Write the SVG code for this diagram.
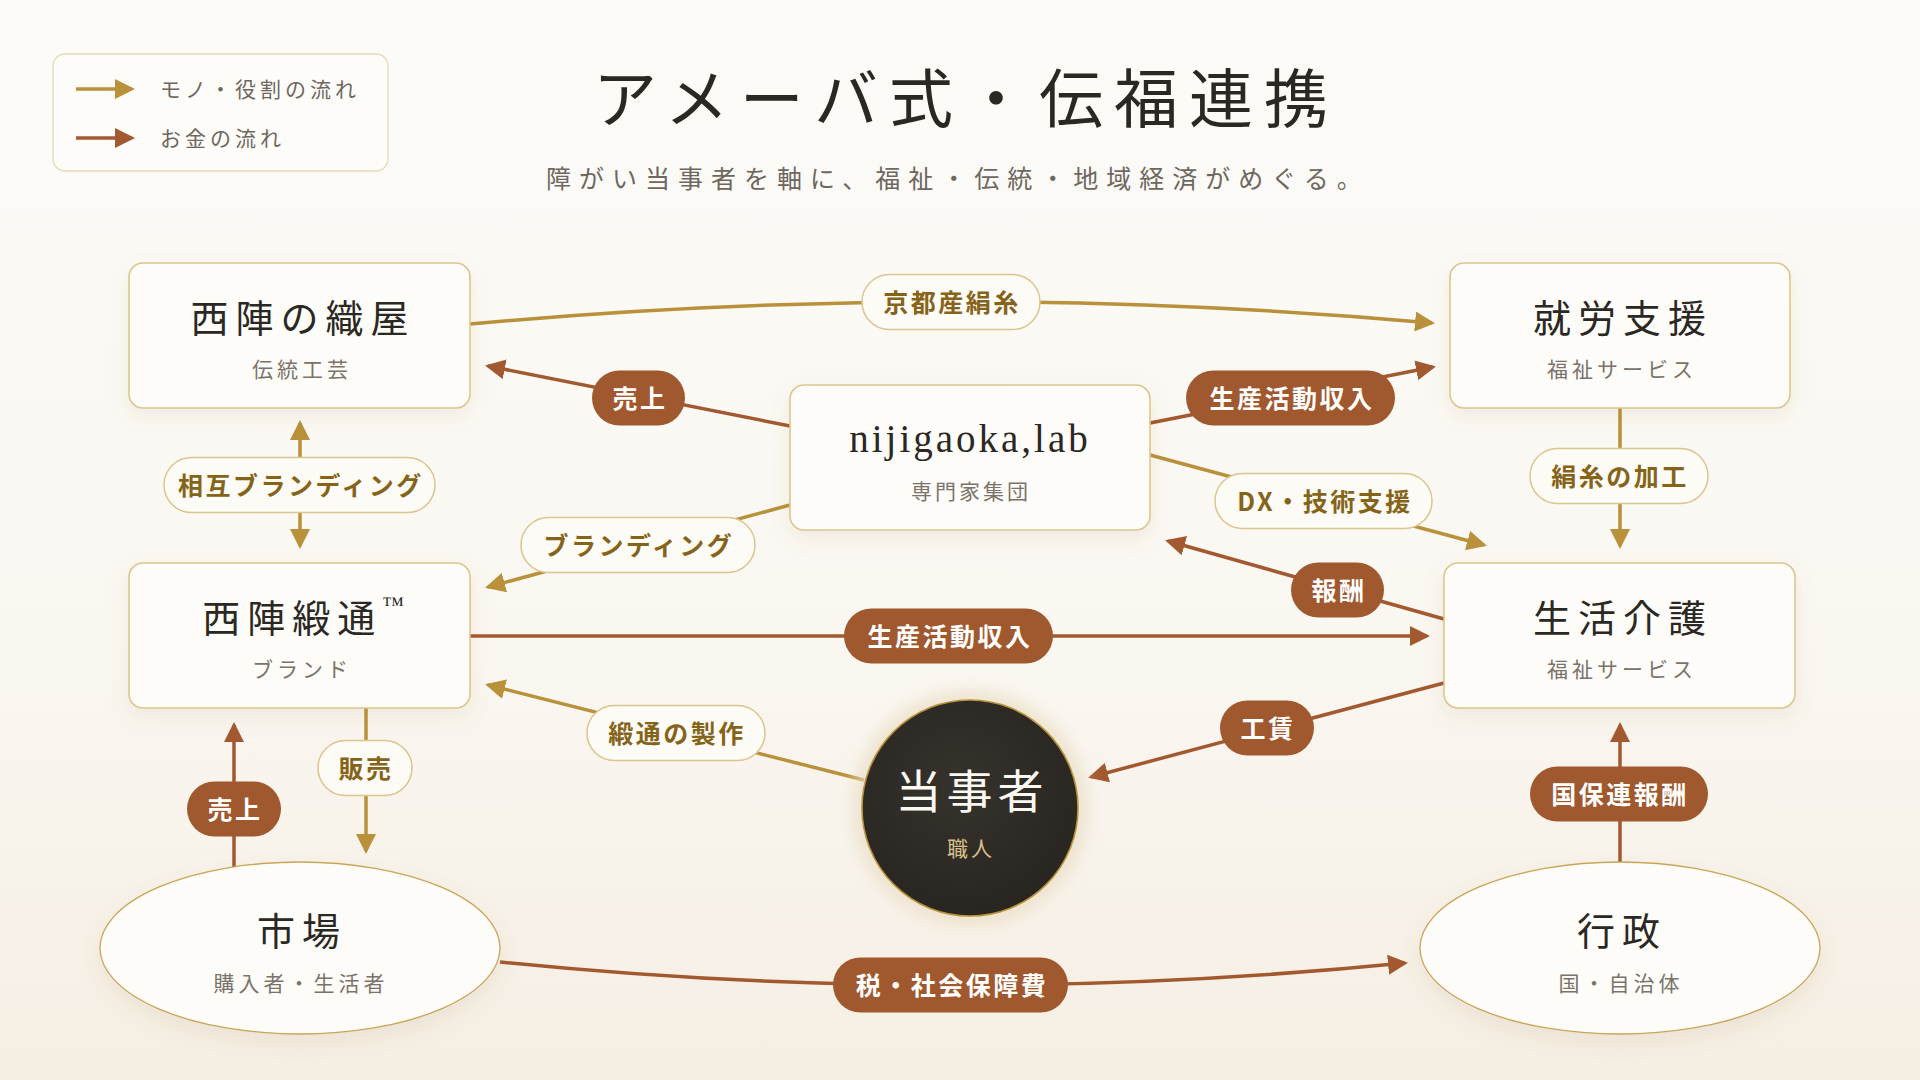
<svg xmlns="http://www.w3.org/2000/svg" width="1920" height="1080" viewBox="0 0 1920 1080">
<defs>
  <linearGradient id="bg" x1="0" y1="0" x2="0" y2="1">
    <stop offset="0" stop-color="#fcfbf8"/>
    <stop offset="0.6" stop-color="#faf7f1"/>
    <stop offset="1" stop-color="#f5eee3"/>
  </linearGradient>
  <radialGradient id="dark" cx="0.45" cy="0.4" r="0.65">
    <stop offset="0" stop-color="#36322c"/>
    <stop offset="1" stop-color="#282521"/>
  </radialGradient>
  <filter id="shadow" x="-20%" y="-20%" width="140%" height="150%">
    <feDropShadow dx="0" dy="8" stdDeviation="10" flood-color="#8a6a3a" flood-opacity="0.10"/>
  </filter>
  <filter id="halo" x="-30%" y="-30%" width="160%" height="160%">
    <feGaussianBlur stdDeviation="8"/>
  </filter>
  <marker id="ag" viewBox="0 0 20 20" refX="17" refY="10" markerWidth="20" markerHeight="20" markerUnits="userSpaceOnUse" orient="auto-start-reverse">
    <path d="M0,0 L20,10 L0,20 Z" fill="#b8913a"/>
  </marker>
  <marker id="ab" viewBox="0 0 20 20" refX="17" refY="10" markerWidth="20" markerHeight="20" markerUnits="userSpaceOnUse" orient="auto-start-reverse">
    <path d="M0,0 L20,10 L0,20 Z" fill="#a3592f"/>
  </marker>
  <style>
    .box { fill: #fdfcf9; stroke: #dcc58e; stroke-width: 1.6; filter: url(#shadow); }
    .ell { fill: #fdfcf9; stroke: #c9a558; stroke-width: 1.3; filter: url(#shadow); }
    .ttl { font-family: "Noto Sans CJK JP", sans-serif; font-size: 38px; fill: #2b2824; letter-spacing: 7px; text-anchor: middle; dominant-baseline: central; }
    .sub { font-family: "Noto Sans CJK JP", sans-serif; font-size: 21px; fill: #7b736a; letter-spacing: 4px; text-anchor: middle; dominant-baseline: central; }
    .g { fill: none; stroke: #b8913a; stroke-width: 3.5; }
    .b { fill: none; stroke: #a3592f; stroke-width: 3.5; }
    .pg { fill: #fdfbf5; stroke: #dcc48f; stroke-width: 1.5; }
    .pb { fill: #a0592f; }
    .tg { font-family: "Noto Sans CJK JP", sans-serif; font-weight: 700; font-size: 25px; fill: #85641a; letter-spacing: 2.5px; text-anchor: middle; dominant-baseline: central; }
    .tb { font-family: "Noto Sans CJK JP", sans-serif; font-weight: 700; font-size: 25px; fill: #ffffff; letter-spacing: 2.5px; text-anchor: middle; dominant-baseline: central; }
    .leg { font-family: "Noto Sans CJK JP", sans-serif; font-size: 21px; fill: #6e675f; letter-spacing: 4px; dominant-baseline: central; }
  </style>
</defs>

<rect x="0" y="0" width="1920" height="1080" fill="url(#bg)"/>

<!-- Legend -->
<g id="legend">
  <rect x="53" y="54" width="335" height="117" rx="12" fill="#fdfcf9" stroke="#e6d9b9" stroke-width="1.3"/>
  <path d="M76,89 L132,89" class="g" marker-end="url(#ag)"/>
  <text x="160" y="88" class="leg">モノ・役割の流れ</text>
  <path d="M76,138 L132,138" class="b" marker-end="url(#ab)"/>
  <text x="160" y="137" class="leg">お金の流れ</text>
</g>

<!-- Title -->
<g id="title">
  <text x="966" y="94" font-family="'Noto Sans CJK JP', sans-serif" font-size="64" fill="#2b2824" letter-spacing="11" text-anchor="middle" dominant-baseline="central">アメーバ式・伝福連携</text>
  <text x="958" y="177" font-family="'Noto Sans CJK JP', sans-serif" font-size="25" fill="#6e675f" letter-spacing="8" text-anchor="middle" dominant-baseline="central">障がい当事者を軸に、福祉・伝統・地域経済がめぐる。</text>
</g>

<!-- Connectors -->
<g id="connectors">
  <path d="M470,324 Q951,280 1432,323" class="g" marker-end="url(#ag)"/>
  <path d="M790,426 L488,366" class="b" marker-end="url(#ab)"/>
  <path d="M1150,423 L1433,367" class="b" marker-end="url(#ab)"/>
  <path d="M1150,455 L1484,545" class="g" marker-end="url(#ag)"/>
  <path d="M1444,619 L1168,541" class="b" marker-end="url(#ab)"/>
  <path d="M470,636 L1427,636" class="b" marker-end="url(#ab)"/>
  <path d="M864,780 L488,685" class="g" marker-end="url(#ag)"/>
  <path d="M790,505 L488,587" class="g" marker-end="url(#ag)"/>
  <path d="M1444,683 L1091,777" class="b" marker-end="url(#ab)"/>
  <path d="M1620,408 L1620,546" class="g" marker-end="url(#ag)"/>
  <path d="M300,423 L300,546" class="g" marker-start="url(#ag)" marker-end="url(#ag)"/>
  <path d="M366,708 L366,851" class="g" marker-end="url(#ag)"/>
  <path d="M234,867 L234,725" class="b" marker-end="url(#ab)"/>
  <path d="M1620,862 L1620,725" class="b" marker-end="url(#ab)"/>
  <path d="M500,962 Q951,1008 1405,963" class="b" marker-end="url(#ab)"/>

  <!-- labels -->
  <rect x="862" y="274.5" width="178" height="55" rx="27.5" class="pg"/>
  <text x="952" y="301" class="tg">京都産絹糸</text>
  <rect x="592" y="370.5" width="93" height="55" rx="27.5" class="pb"/>
  <text x="640" y="397" class="tb">売上</text>
  <rect x="1186" y="370.5" width="209" height="55" rx="27.5" class="pb"/>
  <text x="1292" y="397" class="tb">生産活動収入</text>
  <rect x="1215" y="473.5" width="217" height="55" rx="27.5" class="pg"/>
  <text x="1325" y="500" class="tg">DX・技術支援</text>
  <rect x="1291" y="562.5" width="93" height="55" rx="27.5" class="pb"/>
  <text x="1339" y="589" class="tb">報酬</text>
  <rect x="844" y="608.5" width="209" height="55" rx="27.5" class="pb"/>
  <text x="950" y="635" class="tb">生産活動収入</text>
  <rect x="587" y="705.5" width="178" height="55" rx="27.5" class="pg"/>
  <text x="677" y="732" class="tg">緞通の製作</text>
  <rect x="521" y="517.5" width="234" height="55" rx="27.5" class="pg"/>
  <text x="639" y="544" class="tg">ブランディング</text>
  <rect x="1220" y="700.5" width="94" height="55" rx="27.5" class="pb"/>
  <text x="1268" y="727" class="tb">工賃</text>
  <rect x="1530" y="448.5" width="178" height="55" rx="27.5" class="pg"/>
  <text x="1620" y="475" class="tg">絹糸の加工</text>
  <rect x="164" y="457.5" width="271" height="55" rx="27.5" class="pg"/>
  <text x="301" y="484" class="tg">相互ブランディング</text>
  <rect x="318" y="740.5" width="94" height="55" rx="27.5" class="pg"/>
  <text x="366" y="767" class="tg">販売</text>
  <rect x="187" y="781.5" width="94" height="55" rx="27.5" class="pb"/>
  <text x="235" y="808" class="tb">売上</text>
  <rect x="1530" y="766.5" width="178" height="55" rx="27.5" class="pb"/>
  <text x="1620" y="793" class="tb">国保連報酬</text>
  <rect x="833" y="957.5" width="235" height="55" rx="27.5" class="pb"/>
  <text x="952" y="984" class="tb">税・社会保障費</text>
</g>

<!-- Nodes -->
<g id="node-orimono">
  <rect x="129" y="263" width="341" height="145" rx="14" class="box"/>
  <text x="303" y="315" class="ttl">西陣の織屋</text>
  <text x="302" y="368" class="sub">伝統工芸</text>
</g>
<g id="node-shuro">
  <rect x="1450" y="263" width="340" height="145" rx="14" class="box"/>
  <text x="1623" y="315" class="ttl">就労支援</text>
  <text x="1622" y="368" class="sub">福祉サービス</text>
</g>
<g id="node-nijigaoka">
  <rect x="790" y="385" width="360" height="145" rx="14" class="box"/>
  <text x="970" y="438" font-family="'Liberation Serif', serif" font-size="39" fill="#2b2824" letter-spacing="3" text-anchor="middle" dominant-baseline="central">nijigaoka,lab</text>
  <text x="971" y="490" class="sub" style="letter-spacing:3px">専門家集団</text>
</g>
<g id="node-dantsu">
  <rect x="129" y="563" width="341" height="145" rx="14" class="box"/>
  <text x="303" y="615" class="ttl">西陣緞通<tspan font-family="'Liberation Serif', serif" font-size="22" letter-spacing="0" dx="0" dy="-11">™</tspan></text>
  <text x="302" y="668" class="sub">ブランド</text>
</g>
<g id="node-seikatsu">
  <rect x="1444" y="563" width="351" height="145" rx="14" class="box"/>
  <text x="1623" y="615" class="ttl">生活介護</text>
  <text x="1622" y="668" class="sub">福祉サービス</text>
</g>
<g id="node-tojisha">
  <circle cx="970" cy="808" r="118" fill="#e9dcc2" opacity="0.7" filter="url(#halo)"/>
  <circle cx="970" cy="808" r="108" fill="url(#dark)" stroke="#b8913a" stroke-width="1.6"/>
  <text x="972" y="788" font-family="'Noto Sans CJK JP', sans-serif" font-size="46" fill="#fbf8f2" letter-spacing="5" text-anchor="middle" dominant-baseline="central">当事者</text>
  <text x="971" y="847" font-family="'Noto Sans CJK JP', sans-serif" font-size="21" fill="#d8bf8c" letter-spacing="3" text-anchor="middle" dominant-baseline="central">職人</text>
</g>
<g id="node-shijo">
  <ellipse cx="300" cy="948" rx="200" ry="86" class="ell"/>
  <text x="302" y="928" class="ttl">市場</text>
  <text x="301" y="982" class="sub">購入者・生活者</text>
</g>
<g id="node-gyosei">
  <ellipse cx="1620" cy="948" rx="200" ry="86" class="ell"/>
  <text x="1622" y="928" class="ttl">行政</text>
  <text x="1621" y="982" class="sub">国・自治体</text>
</g>
</svg>
